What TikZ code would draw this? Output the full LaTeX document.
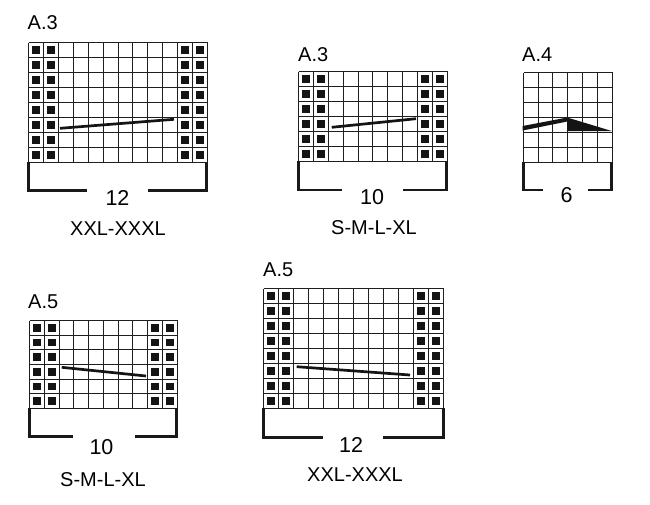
\documentclass[tikz,border=0pt]{standalone}
\usepackage{fontspec}
\setmainfont{Liberation Sans}
\tikzset{
  gridline/.style={line width=1.2pt, draw=black!88},
  knot/.style={fill=black!92},
  bracket/.style={line width=2.5pt, draw=black!90},
  slope/.style={line width=2.7pt, draw=black!92},
  wedge/.style={fill=black!92},
  title/.style={anchor=base west, inner sep=0pt, font=\fontsize{20}{20}\selectfont},
  count/.style={inner sep=0pt, font=\fontsize{21.5}{22}\selectfont},
  sizelabel/.style={inner sep=0pt, font=\fontsize{20}{20}\selectfont},
}
% #1 x0, #2 y0, #3 cols, #4 rows, #5 cell width, #6 cell height
\newcommand\kgrid[6]{%
  \pgfmathsetmacro\gytop{round(#2)+0.5}%
  \pgfmathsetmacro\gybot{round(#2+#4*#6)+0.5}%
  \pgfmathsetmacro\gxl{round(#1)+0.5}%
  \pgfmathsetmacro\gxr{round(#1+#3*#5)+0.5}%
  \foreach \i in {0,...,#3} {\pgfmathsetmacro\xx{round(#1+\i*#5)+0.5}\draw[gridline] (\xx,\gytop) -- (\xx,\gybot);}
  \foreach \j in {0,...,#4} {\pgfmathsetmacro\yy{round(#2+\j*#6)+0.5}\draw[gridline] (\gxl,\yy) -- (\gxr,\yy);}
}
% #1 x0, #2 y0, #3 cw, #4 ch, #5 list of dark columns, #6 rows
\newcommand\kdark[6]{%
  \foreach \c in {#5} {\foreach \r in {1,...,#6} {%
    \pgfmathsetmacro\xa{round(#1+(\c-1)*#3)+4}%
    \pgfmathsetmacro\xb{round(#1+\c*#3)-3}%
    \pgfmathsetmacro\ya{round(#2+(\r-1)*#4)+4}%
    \pgfmathsetmacro\yb{round(#2+\r*#4)-3}%
    \fill[knot] (\xa,\ya) rectangle (\xb,\yb);}}
}
\begin{document}
\begin{tikzpicture}[x=1pt,y=-1pt]
\useasboundingbox (0,0) rectangle (650,504);
\fill[white] (0,0) rectangle (650,504);

% ---------- Chart 1: A.3 XXL-XXXL ----------
\kgrid{28.3}{41.7}{12}{8}{14.87}{15}
\kdark{28.3}{41.7}{14.87}{15}{1,2,11,12}{8}
\coordinate (a1) at (60,128.3);
\coordinate (b1) at (174,119.3);
\draw[slope] (a1) -- (b1);
\draw[bracket] (28.5,161.7) -- (28.5,190.7) -- (86.7,190.7);
\draw[bracket] (148.3,190.7) -- (206.5,190.7) -- (206.5,161.7);
\node[title] (t1) at (27.5,29) {A.3};
\node[count] (n1) at (117.5,198) {12};
\node[sizelabel] (s1) at (118,229) {XXL-XXXL};

% ---------- Chart 2: A.3 S-M-L-XL ----------
\kgrid{298.3}{70.8}{10}{6}{14.84}{15}
\kdark{298.3}{70.8}{14.84}{15}{1,2,9,10}{6}
\coordinate (a2) at (331.7,127.3);
\coordinate (b2) at (416,118.7);
\draw[slope] (a2) -- (b2);
\draw[bracket] (298.5,160.8) -- (298.5,189.8) -- (341.7,189.8);
\draw[bracket] (403,189.8) -- (446.5,189.8) -- (446.5,160.8);
\node[title] (t2) at (298,61.5) {A.3};
\node[count] (n2) at (372,197.5) {10};
\node[sizelabel] (s2) at (374,227.5) {S-M-L-XL};

% ---------- Chart 3: A.4 ----------
\kgrid{522.7}{72.3}{6}{6}{14.83}{14.9}
\fill[wedge] (522.7,126) -- (567.2,117.5) -- (611.7,131) -- (567.2,131) -- (567.2,121.5) -- (522.7,130.5) -- cycle;
\draw[bracket] (523.5,161.7) -- (523.5,190) -- (543.3,190);
\draw[bracket] (588.3,190) -- (611.5,190) -- (611.5,161.7);
\node[title] (t3) at (522,61.7) {A.4};
\node[count] (n3) at (566.5,195) {6};

% ---------- Chart 4: A.5 S-M-L-XL ----------
\kgrid{29}{320}{10}{6}{14.77}{14.7}
\kdark{29}{320}{14.77}{14.7}{1,2,9,10}{6}
\coordinate (a4) at (61.7,367.3);
\coordinate (b4) at (146,376);
\draw[slope] (a4) -- (b4);
\draw[bracket] (29.5,408.2) -- (29.5,436.7) -- (73.3,436.7);
\draw[bracket] (135,436.7) -- (176.5,436.7) -- (176.5,408.2);
\node[title] (t4) at (28,308.3) {A.5};
\node[count] (n4) at (101.5,446.7) {10};
\node[sizelabel] (s4) at (103,480) {S-M-L-XL};

% ---------- Chart 5: A.5 XXL-XXXL ----------
\kgrid{263.3}{288.3}{12}{8}{15}{15}
\kdark{263.3}{288.3}{15}{15}{1,2,11,12}{8}
\coordinate (a5) at (296.7,366.7);
\coordinate (b5) at (410,375);
\draw[slope] (a5) -- (b5);
\draw[bracket] (263.5,408.3) -- (263.5,437.7) -- (323.3,437.7);
\draw[bracket] (383.3,437.7) -- (443.5,437.7) -- (443.5,408.3);
\node[title] (t5) at (263,276.7) {A.5};
\node[count] (n5) at (351,445) {12};
\node[sizelabel] (s5) at (355,475) {XXL-XXXL};
\end{tikzpicture}
\end{document}
